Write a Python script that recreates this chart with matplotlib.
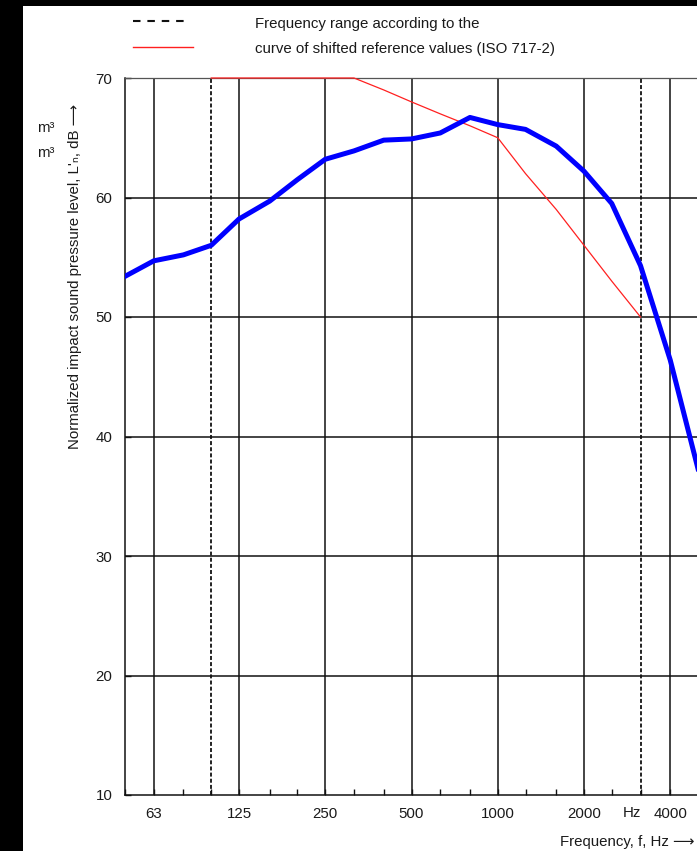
import matplotlib
matplotlib.use("Agg")
import matplotlib.pyplot as plt
from matplotlib.lines import Line2D
from matplotlib.patches import Rectangle
from matplotlib.ticker import FixedLocator, NullFormatter

plt.rcParams['font.family'] = ['Liberation Sans', 'DejaVu Sans']

# third-octave band centre frequencies, Hz
freqs = [50, 63, 80, 100, 125, 160, 200, 250, 315, 400, 500, 630, 800,
         1000, 1250, 1600, 2000, 2500, 3150, 4000, 5000]
# measured normalized impact sound pressure level, dB
measured = [53.4, 54.7, 55.2, 56.0, 58.2, 59.7, 61.5, 63.2, 63.9, 64.8, 64.9,
            65.4, 66.7, 66.1, 65.7, 64.3, 62.2, 59.5, 54.3, 46.4, 37.3]

# shifted reference curve ISO 717-2 (100 .. 3150 Hz)
ref_freqs = [100, 125, 160, 200, 250, 315, 400, 500, 630, 800,
             1000, 1250, 1600, 2000, 2500, 3150]
ref_values = [70, 70, 70, 70, 70, 70, 69, 68, 67, 66, 65, 62, 59, 56, 53, 50]

octave_lines = [63, 125, 250, 500, 1000, 2000, 4000]
range_lines = [100, 3150]
tick_labels = ['63', '125', '250', '500', '1000', '2000', '4000']
y_levels = [10, 20, 30, 40, 50, 60, 70]

W, H = 697, 851
txt = '#1a1a1a'
fs = 10.8

fig = plt.figure(figsize=(W / 100, H / 100), dpi=100, facecolor='black')
fig.patches.append(Rectangle((23 / W, 0), 1, 1 - 6 / H, transform=fig.transFigure,
                             facecolor='white', edgecolor='none', zorder=-5))

ax = fig.add_axes([125 / W, 1 - 795 / H, 573 / W, 717 / H])
ax.set_zorder(2)
ax.set_xscale('log')
ax.set_xlim(50, 5000)
ax.set_ylim(10, 70)

for f in octave_lines:
    ax.axvline(f, color='#111111', lw=1.1, zorder=1)
for f in range_lines:
    ax.axvline(f, color='#111111', lw=1.3, ls=(0, (2.2, 1.2)), zorder=1)
for v in y_levels[1:-1]:
    ax.axhline(v, color='#111111', lw=1.1, zorder=1)

ax.plot(ref_freqs, ref_values, color='#ff2020', lw=0.9, zorder=3, clip_on=False)
ax.plot(freqs, measured, color='#0000ff', lw=3.6, zorder=4, solid_joinstyle='round')

ax.xaxis.set_major_locator(FixedLocator(octave_lines))
ax.set_xticklabels(tick_labels)
ax.xaxis.set_minor_locator(FixedLocator(freqs))
ax.xaxis.set_minor_formatter(NullFormatter())
ax.set_yticks(y_levels)
ax.tick_params(axis='both', which='both', direction='in', colors='#111111',
               labelcolor=txt, labelsize=fs, pad=9)
ax.tick_params(axis='x', which='both', length=4, width=1)
ax.tick_params(axis='y', length=4, width=1)
# unit label sits in the tick-label row, just left of 4000
ax.text(2950, -0.0245, 'Hz', transform=ax.get_xaxis_transform(), ha='center',
        va='center', fontsize=fs, color=txt)

for side in ['left', 'bottom']:
    ax.spines[side].set_color('#111111')
    ax.spines[side].set_linewidth(1.1)
for side in ['top', 'right']:
    ax.spines[side].set_color('#555555')
    ax.spines[side].set_linewidth(0.9)

# axis titles
fig.text(75 / W, 1 - 276 / H,
         'Normalized impact sound pressure level, L\'\u2099, dB \u27f6',
         rotation=90, ha='center', va='center', fontsize=fs, color=txt)
fig.text(694 / W, 1 - 842 / H, 'Frequency, f, Hz \u27f6', ha='right', va='center',
         fontsize=fs, color=txt)
fig.text(46 / W, 1 - 128 / H, 'm\u00b3', ha='center', va='center', fontsize=fs, color=txt)
fig.text(46 / W, 1 - 153 / H, 'm\u00b3', ha='center', va='center', fontsize=fs, color=txt)

# legend
fig.add_artist(Line2D([133 / W, 187 / W], [1 - 20.7 / H, 1 - 20.7 / H],
                      transform=fig.transFigure, color='#111111', lw=1.5,
                      ls=(0, (3.6, 3.3))))
fig.add_artist(Line2D([133 / W, 193 / W], [1 - 46.7 / H, 1 - 46.7 / H],
                      transform=fig.transFigure, color='#ff2020', lw=1.0))
fig.text(255 / W, 1 - 24 / H, 'Frequency range according to the', ha='left',
         va='center', fontsize=fs, color=txt)
fig.text(255 / W, 1 - 49 / H, 'curve of shifted reference values (ISO 717-2)',
         ha='left', va='center', fontsize=fs, color=txt)

fig.savefig('out.png', dpi=100, facecolor='black')
